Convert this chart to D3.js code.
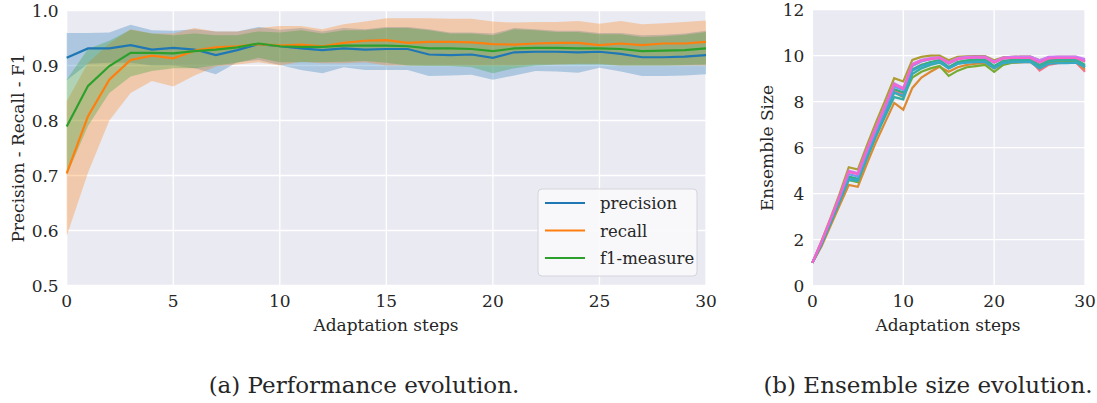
<!DOCTYPE html>
<html>
<head>
<meta charset="utf-8">
<script src="https://cdn.jsdelivr.net/npm/d3@7"></script>
<style>
  body { margin: 0; background: #fff; }
  text { font-family: "DejaVu Serif", serif; fill: #262626; }
</style>
</head>
<body>
<svg width="1097" height="403"></svg>
<script>
// ---- data: left panel (performance evolution) ----
var steps = d3.range(0, 31);

var precision = [0.914, 0.931, 0.931, 0.937, 0.929, 0.932, 0.929, 0.919, 0.928, 0.939, 0.935, 0.931, 0.928, 0.931, 0.929, 0.930,
  0.930, 0.920, 0.919, 0.920, 0.914, 0.924, 0.925, 0.925, 0.924, 0.925, 0.921, 0.915, 0.915, 0.916, 0.919];
var precisionLow = [0.873, 0.903, 0.905, 0.905, 0.900, 0.900, 0.895, 0.884, 0.906, 0.910, 0.901, 0.892, 0.886, 0.897, 0.892, 0.892,
  0.892, 0.881, 0.882, 0.883, 0.874, 0.882, 0.890, 0.889, 0.887, 0.896, 0.889, 0.881, 0.881, 0.882, 0.884];
var precisionHigh = [0.959, 0.959, 0.960, 0.974, 0.964, 0.963, 0.966, 0.962, 0.962, 0.970, 0.965, 0.968, 0.962, 0.968, 0.966, 0.970,
  0.970, 0.966, 0.960, 0.960, 0.958, 0.968, 0.966, 0.963, 0.963, 0.959, 0.959, 0.955, 0.956, 0.958, 0.963];

var recall = [0.704, 0.808, 0.874, 0.910, 0.918, 0.913, 0.927, 0.933, 0.935, 0.939, 0.936, 0.938, 0.935, 0.941, 0.945, 0.946,
  0.941, 0.943, 0.943, 0.942, 0.939, 0.938, 0.940, 0.941, 0.941, 0.937, 0.940, 0.937, 0.940, 0.940, 0.943];
var recallLow = [0.590, 0.705, 0.800, 0.850, 0.872, 0.862, 0.882, 0.898, 0.902, 0.906, 0.900, 0.907, 0.904, 0.904, 0.906, 0.900,
  0.900, 0.900, 0.900, 0.900, 0.900, 0.900, 0.902, 0.902, 0.903, 0.903, 0.900, 0.900, 0.900, 0.900, 0.900];
var recallHigh = [0.835, 0.905, 0.940, 0.966, 0.958, 0.958, 0.968, 0.962, 0.962, 0.968, 0.972, 0.972, 0.966, 0.975, 0.980, 0.986,
  0.986, 0.986, 0.985, 0.985, 0.980, 0.978, 0.979, 0.979, 0.981, 0.976, 0.981, 0.975, 0.977, 0.979, 0.982];

var f1 = [0.789, 0.863, 0.899, 0.923, 0.923, 0.922, 0.926, 0.929, 0.933, 0.940, 0.935, 0.934, 0.934, 0.936, 0.936, 0.936,
  0.935, 0.931, 0.931, 0.930, 0.926, 0.931, 0.932, 0.932, 0.931, 0.931, 0.930, 0.926, 0.927, 0.928, 0.931];
var f1Low = [0.700, 0.790, 0.850, 0.880, 0.890, 0.895, 0.895, 0.900, 0.905, 0.914, 0.906, 0.906, 0.906, 0.907, 0.908, 0.905,
  0.900, 0.899, 0.899, 0.897, 0.886, 0.895, 0.900, 0.902, 0.902, 0.902, 0.900, 0.900, 0.900, 0.901, 0.902];
var f1High = [0.874, 0.930, 0.945, 0.965, 0.958, 0.955, 0.958, 0.955, 0.955, 0.962, 0.960, 0.964, 0.958, 0.964, 0.964, 0.968,
  0.968, 0.964, 0.958, 0.958, 0.955, 0.966, 0.964, 0.961, 0.961, 0.957, 0.957, 0.952, 0.953, 0.956, 0.961];

var seriesNames = ["precision", "recall", "f1-measure"];
var seriesColors = ["#1f77b4", "#ff7f0e", "#2ca02c"];
var leftXTicks = [0, 5, 10, 15, 20, 25, 30];
var leftYTicks = [0.5, 0.6, 0.7, 0.8, 0.9, 1.0];

// ---- data: right panel (ensemble size of each run) ----
var run0 = [1, 1.8, 2.75, 3.75, 4.7, 4.6, 5.65, 6.6, 7.55, 8.5, 8.3, 9.4, 9.6, 9.7, 9.8, 9.5, 9.72, 9.78, 9.8, 9.8, 9.5, 9.72, 9.78, 9.8, 9.8, 9.35, 9.6, 9.68, 9.7, 9.7, 9.3];
var run1 = [1, 1.7, 2.6, 3.5, 4.38, 4.3, 5.3, 6.25, 7.1, 7.95, 7.65, 8.6, 9.05, 9.3, 9.52, 9.3, 9.5, 9.6, 9.65, 9.68, 9.45, 9.65, 9.7, 9.72, 9.72, 9.45, 9.65, 9.7, 9.7, 9.72, 9.4];
var run2 = [1, 1.95, 2.95, 4.0, 5.15, 5.05, 6.1, 7.1, 8.05, 9.02, 8.88, 9.82, 9.95, 10.0, 10.0, 9.8, 9.95, 9.97, 9.98, 9.98, 9.8, 9.93, 9.95, 9.96, 9.96, 9.8, 9.93, 9.95, 9.95, 9.95, 9.75];
var run3 = [1, 1.8, 2.7, 3.7, 4.6, 4.5, 5.55, 6.5, 7.45, 8.4, 8.2, 9.05, 9.3, 9.45, 9.55, 9.12, 9.35, 9.5, 9.55, 9.6, 9.3, 9.6, 9.7, 9.72, 9.75, 9.55, 9.72, 9.75, 9.75, 9.78, 9.5];
var run4 = [1, 1.85, 2.8, 3.8, 4.75, 4.65, 5.7, 6.65, 7.6, 8.55, 8.4, 9.4, 9.6, 9.72, 9.8, 9.5, 9.72, 9.8, 9.82, 9.85, 9.55, 9.78, 9.82, 9.85, 9.85, 9.6, 9.8, 9.85, 9.85, 9.85, 9.6];
var run5 = [1, 1.78, 2.72, 3.65, 4.6, 4.55, 5.55, 6.5, 7.35, 8.2, 8.1, 9.2, 9.45, 9.6, 9.7, 9.45, 9.65, 9.72, 9.75, 9.78, 9.5, 9.72, 9.78, 9.8, 9.8, 9.55, 9.75, 9.8, 9.8, 9.8, 9.55];
var run6 = [1, 1.82, 2.78, 3.72, 4.65, 4.6, 5.6, 6.6, 7.5, 8.4, 8.25, 9.35, 9.55, 9.65, 9.75, 9.45, 9.65, 9.7, 9.72, 9.72, 9.45, 9.68, 9.72, 9.72, 9.72, 9.45, 9.65, 9.68, 9.68, 9.7, 9.5];
var run7 = [1, 1.88, 2.85, 3.85, 4.85, 4.75, 5.8, 6.75, 7.7, 8.65, 8.5, 9.55, 9.75, 9.85, 9.9, 9.65, 9.85, 9.9, 9.92, 9.92, 9.7, 9.88, 9.92, 9.92, 9.92, 9.75, 9.9, 9.92, 9.92, 9.92, 9.8];
var run8 = [1, 1.92, 2.9, 3.9, 5.0, 4.9, 5.95, 6.9, 7.85, 8.8, 8.6, 9.65, 9.82, 9.9, 9.93, 9.72, 9.9, 9.95, 9.96, 9.96, 9.75, 9.92, 9.95, 9.96, 9.96, 9.8, 9.95, 9.96, 9.96, 9.96, 9.85];
var run9 = [1, 1.9, 2.88, 3.88, 4.95, 4.85, 5.9, 6.85, 7.8, 8.75, 8.55, 9.6, 9.78, 9.85, 9.9, 9.68, 9.85, 9.9, 9.92, 9.92, 9.7, 9.88, 9.9, 9.9, 9.9, 9.7, 9.88, 9.9, 9.9, 9.9, 9.75];

var runs = [run0, run1, run2, run3, run4, run5, run6, run7, run8, run9];
var runColors = ["#f77189", "#dc8932", "#ae9d31", "#77ab31", "#33b07a", "#36ada4", "#38a9c5", "#6e9bf4", "#cc7af4", "#f565cc"];
var rightXTicks = [0, 10, 20, 30];
var rightYTicks = [0, 2, 4, 6, 8, 10, 12];

var svg = d3.select("svg");
var bg = "#eaeaf2";

// generic seaborn-style panel
function makePanel(left, right, top, bottom, xDomain, yDomain, xTicks, yTicks, yFmt) {
  var x = d3.scaleLinear().domain(xDomain).range([left, right]);
  var y = d3.scaleLinear().domain(yDomain).range([bottom, top]);
  var g = svg.append("g");
  g.append("rect")
    .attr("x", left).attr("y", top)
    .attr("width", right - left).attr("height", bottom - top)
    .attr("fill", bg);
  g.append("g").selectAll("line").data(xTicks).enter().append("line")
    .attr("x1", function(d) { return x(d); }).attr("x2", function(d) { return x(d); })
    .attr("y1", top).attr("y2", bottom)
    .attr("stroke", "#fff").attr("stroke-width", 1.3);
  g.append("g").selectAll("line").data(yTicks).enter().append("line")
    .attr("x1", left).attr("x2", right)
    .attr("y1", function(d) { return y(d); }).attr("y2", function(d) { return y(d); })
    .attr("stroke", "#fff").attr("stroke-width", 1.3);
  g.append("g").selectAll("text").data(xTicks).enter().append("text")
    .attr("x", function(d) { return x(d); })
    .attr("y", bottom + 21)
    .attr("text-anchor", "middle")
    .style("font-size", "17px")
    .text(function(d) { return d; });
  g.append("g").selectAll("text").data(yTicks).enter().append("text")
    .attr("x", left - 8)
    .attr("y", function(d) { return y(d) + 6; })
    .attr("text-anchor", "end")
    .style("font-size", "17px")
    .text(yFmt);
  return {x: x, y: y, g: g};
}

// ---- left panel ----
var L = makePanel(66.7, 706, 10.5, 285.5, [0, 30], [0.5, 1.0], leftXTicks, leftYTicks, d3.format(".1f"));

var bands = [[precisionLow, precisionHigh], [recallLow, recallHigh], [f1Low, f1High]];
var means = [precision, recall, f1];

var area = d3.area()
  .x(function(d, i) { return L.x(steps[i]); })
  .y0(function(d) { return L.y(d[0]); })
  .y1(function(d) { return L.y(d[1]); });

bands.forEach(function(b, k) {
  var pts = steps.map(function(s, i) { return [b[0][i], b[1][i]]; });
  L.g.append("path")
    .attr("d", area(pts))
    .attr("fill", seriesColors[k])
    .attr("fill-opacity", 0.3);
});

var leftLine = d3.line()
  .x(function(d, i) { return L.x(steps[i]); })
  .y(function(d) { return L.y(d); });

means.forEach(function(m, k) {
  L.g.append("path")
    .attr("d", leftLine(m))
    .attr("fill", "none")
    .attr("stroke", seriesColors[k])
    .attr("stroke-width", 2.2);
});

// legend
var legend = L.g.append("g");
legend.append("rect")
  .attr("x", 538).attr("y", 189)
  .attr("width", 159).attr("height", 87)
  .attr("rx", 4)
  .attr("fill", "#fafafc").attr("fill-opacity", 0.9)
  .attr("stroke", "#d4d4dc").attr("stroke-width", 1);
seriesNames.forEach(function(name, k) {
  var yy = 203 + k * 27.5;
  legend.append("line")
    .attr("x1", 545).attr("x2", 585)
    .attr("y1", yy).attr("y2", yy)
    .attr("stroke", seriesColors[k]).attr("stroke-width", 2.2);
  legend.append("text")
    .attr("x", 600).attr("y", yy + 6)
    .style("font-size", "16.5px")
    .text(name);
});

svg.append("text")
  .attr("transform", "translate(24,148) rotate(-90)")
  .attr("text-anchor", "middle")
  .style("font-size", "17px")
  .text("Precision - Recall - F1");
svg.append("text")
  .attr("x", 386).attr("y", 331)
  .attr("text-anchor", "middle")
  .style("font-size", "17px")
  .text("Adaptation steps");
svg.append("text")
  .attr("x", 364).attr("y", 393)
  .attr("text-anchor", "middle")
  .style("font-size", "23px")
  .text("(a) Performance evolution.");

// ---- right panel ----
var R = makePanel(812.4, 1085, 9.7, 285.7, [0, 30], [0, 12], rightXTicks, rightYTicks, function(d) { return d; });

var rightLine = d3.line()
  .x(function(d, i) { return R.x(steps[i]); })
  .y(function(d) { return R.y(d); });

runs.forEach(function(r, k) {
  R.g.append("path")
    .attr("d", rightLine(r))
    .attr("fill", "none")
    .attr("stroke", runColors[k])
    .attr("stroke-width", 2.2);
});

svg.append("text")
  .attr("transform", "translate(773,148) rotate(-90)")
  .attr("text-anchor", "middle")
  .style("font-size", "17px")
  .text("Ensemble Size");
svg.append("text")
  .attr("x", 948).attr("y", 331)
  .attr("text-anchor", "middle")
  .style("font-size", "17px")
  .text("Adaptation steps");
svg.append("text")
  .attr("x", 928).attr("y", 393)
  .attr("text-anchor", "middle")
  .style("font-size", "23px")
  .text("(b) Ensemble size evolution.");
</script>
</body>
</html>
